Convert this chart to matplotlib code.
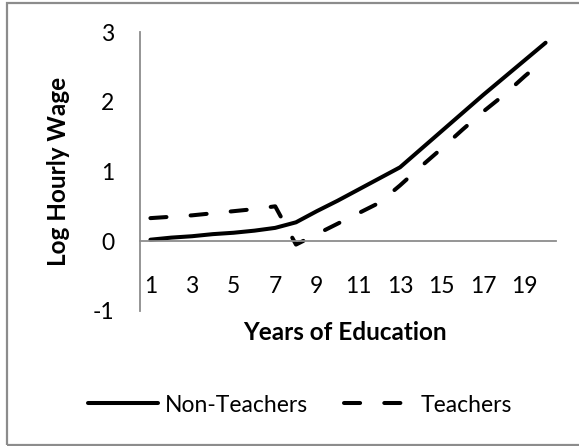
import matplotlib.pyplot as plt
from matplotlib.lines import Line2D
from matplotlib.patches import Rectangle

plt.rcParams['font.family'] = ['Lato', 'DejaVu Sans']

# years of education (category axis)
years = list(range(1, 21))
non_teachers = [0.02, 0.05, 0.07, 0.10, 0.12, 0.15, 0.19, 0.27, 0.43, 0.58,
                0.74, 0.90, 1.06, 1.32, 1.58, 1.84, 2.10, 2.35, 2.60, 2.85]
teachers = [0.33, 0.35, 0.37, 0.40, 0.43, 0.46, 0.50, -0.05, 0.10, 0.25,
            0.40, 0.55, 0.80, 1.07, 1.33, 1.60, 1.86, 2.10, 2.37, 2.62]
tick_years = [1, 3, 5, 7, 9, 11, 13, 15, 17, 19]
y_ticks = [-1, 0, 1, 2, 3]

W, H = 579, 446
fs = 16.5
fig = plt.figure(figsize=(W / 100, H / 100), dpi=100)
ax = fig.add_axes([140 / W, 1 - 310.7 / H, (556 - 140) / W, (310.7 - 32.3) / H])

# chart border (right side runs off the image)
fig.patches.append(Rectangle((6.5 / W, 1 - 444.5 / H), 1.2, (444.5 - 2.5) / H,
                             transform=fig.transFigure, fill=False,
                             edgecolor='#8c8c8c', linewidth=1.6))

ax.plot(years, non_teachers, color='black', lw=2.9, solid_capstyle='round',
        solid_joinstyle='round', label='Non-Teachers')
ax.plot(years, teachers, color='black', lw=2.9, dashes=(4, 6),
        dash_capstyle='round', dash_joinstyle='round', label='Teachers')

ax.set_xlim(0.5, 20.5)
ax.set_ylim(-1, 3)

for s in ['top', 'right']:
    ax.spines[s].set_visible(False)
ax.spines['left'].set_color('#8c8c8c')
ax.spines['left'].set_linewidth(1.3)
ax.spines['bottom'].set_position(('data', 0))
ax.spines['bottom'].set_color('#8c8c8c')
ax.spines['bottom'].set_linewidth(1.3)

ax.set_xticks(tick_years)
ax.set_xticklabels([str(t) for t in tick_years])
ax.set_yticks(y_ticks)
ax.set_yticklabels([str(t) for t in y_ticks])
ax.tick_params(axis='x', length=0, pad=25, labelsize=fs)
ax.tick_params(axis='y', length=0, pad=18.5, labelsize=fs)

fig.text(345 / W, 1 - 333 / H, 'Years of Education', ha='center', va='center',
         fontsize=17.5, fontweight='bold')
fig.text(59 / W, 1 - 171 / H, 'Log Hourly Wage', ha='center', va='center',
         rotation=90, fontsize=17.5, fontweight='bold')

handles = [Line2D([], [], color='black', lw=2.9, solid_capstyle='round'),
           Line2D([], [], color='black', lw=2.9, dashes=(4, 6), dash_capstyle='round')]
fig.legend(handles, ['Non-Teachers', 'Teachers'], loc='center',
           bbox_to_anchor=(300 / W, 1 - 405 / H), ncol=2, frameon=False,
           fontsize=fs, handlelength=3.05, handletextpad=0.3, columnspacing=1.6)

fig.savefig('out.png', dpi=100)
